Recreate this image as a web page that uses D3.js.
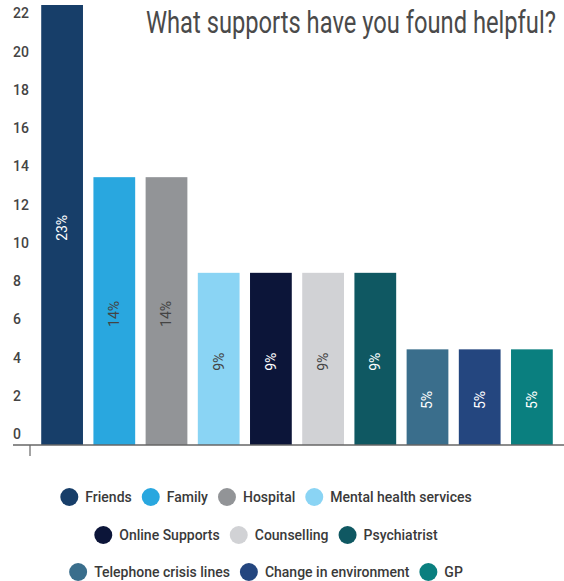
<!DOCTYPE html>
<html>
<head>
<meta charset="utf-8">
<script src="https://cdn.jsdelivr.net/npm/d3@7"></script>
<style>
  body { margin: 0; background: #fff; }
  text { font-family: Roboto, "Noto Sans", sans-serif; }
</style>
</head>
<body>
<div id="chart"></div>
<script>
var categories = ["Friends", "Family", "Hospital", "Mental health services", "Online Supports",
  "Counselling", "Psychiatrist", "Telephone crisis lines", "Change in environment", "GP"];
var values = [23, 14, 14, 9, 9, 9, 9, 5, 5, 5];
var colors = ["#173e69", "#29a7df", "#929497", "#8ad4f4", "#0c1539",
  "#d1d2d5", "#0f5862", "#3a6e8c", "#24467f", "#0a7f7f"];
var labelColors = ["#fff", "#444", "#444", "#444", "#fff", "#444", "#fff", "#fff", "#fff", "#fff"];
var yTicks = [0, 2, 4, 6, 8, 10, 12, 14, 16, 18, 20, 22];
var legendRows = [[0, 1, 2, 3], [4, 5, 6], [7, 8, 9]];

var W = 564, H = 581;

var svg = d3.select("#chart")
  .append("svg")
  .attr("width", W)
  .attr("height", H);

var x = d3.scaleBand()
  .domain(categories)
  .range([36, 558])
  .paddingInner(0.2)
  .paddingOuter(0.1);

var y = d3.scaleLinear()
  .domain([0, 23])
  .range([445, 5]);

// title - condensed look by squeezing horizontally
var title = svg.append("text")
  .attr("x", 0)
  .attr("y", 0)
  .style("font-size", "31px")
  .style("font-weight", 400)
  .style("fill", "#4a4a4a")
  .text("What supports have you found helpful?");
var tw = title.node().getComputedTextLength();
title.attr("transform", "translate(146,33) scale(" + (410 / tw) + ",1)");

// y axis (labels sit above their value)
var yAxis = svg.append("g")
  .attr("transform", "translate(13,0)")
  .call(d3.axisLeft(y).tickValues(yTicks).tickSize(0).tickFormat(d3.format("d")));
yAxis.select(".domain").remove();
yAxis.selectAll("text")
  .attr("x", 0)
  .attr("dy", "-0.45em")
  .style("text-anchor", "start")
  .style("font-family", "Roboto, sans-serif")
  .style("font-size", "14px")
  .style("font-weight", 500)
  .style("fill", "#444");

// bars
svg.selectAll(".bar")
  .data(categories)
  .enter().append("rect")
  .attr("class", "bar")
  .attr("x", function(d) { return x(d); })
  .attr("width", x.bandwidth())
  .attr("y", function(d, i) { return y(values[i]); })
  .attr("height", function(d, i) { return y(0) - y(values[i]); })
  .attr("fill", function(d, i) { return colors[i]; });

// bar labels
svg.selectAll(".blabel")
  .data(categories)
  .enter().append("text")
  .attr("class", "blabel")
  .attr("transform", function(d, i) {
    return "translate(" + (x(d) + x.bandwidth() / 2) + "," + y(values[i] / 2 - 0.15) + ") rotate(-90)";
  })
  .attr("dy", "0.35em")
  .style("text-anchor", "middle")
  .style("font-size", "14px")
  .style("font-weight", 400)
  .style("fill", function(d, i) { return labelColors[i]; })
  .text(function(d, i) { return values[i] + "%"; });

// bottom axis line + tick
svg.append("line")
  .attr("x1", 13).attr("x2", W)
  .attr("y1", y(0)).attr("y2", y(0))
  .attr("stroke", "#666")
  .attr("stroke-width", 1.5);
svg.append("line")
  .attr("x1", 30).attr("x2", 30)
  .attr("y1", y(0)).attr("y2", y(0) + 11)
  .attr("stroke", "#666")
  .attr("stroke-width", 1.2);

// legend
var rowY = [497, 535, 572];
legendRows.forEach(function(row, r) {
  var g = svg.append("g");
  var cx = 0;
  row.forEach(function(i) {
    g.append("circle")
      .attr("cx", cx + 9)
      .attr("cy", 0)
      .attr("r", 9)
      .attr("fill", colors[i]);
    var t = g.append("text")
      .attr("x", cx + 25)
      .attr("y", 0)
      .attr("dy", "0.36em")
      .style("font-size", "14px")
      .style("font-weight", 500)
      .style("fill", "#3a3a3a")
      .text(categories[i]);
    cx += 25 + t.node().getComputedTextLength() + 10;
  });
  var total = cx - 10;
  g.attr("transform", "translate(" + (266 - total / 2) + "," + rowY[r] + ")");
});
</script>
</body>
</html>
